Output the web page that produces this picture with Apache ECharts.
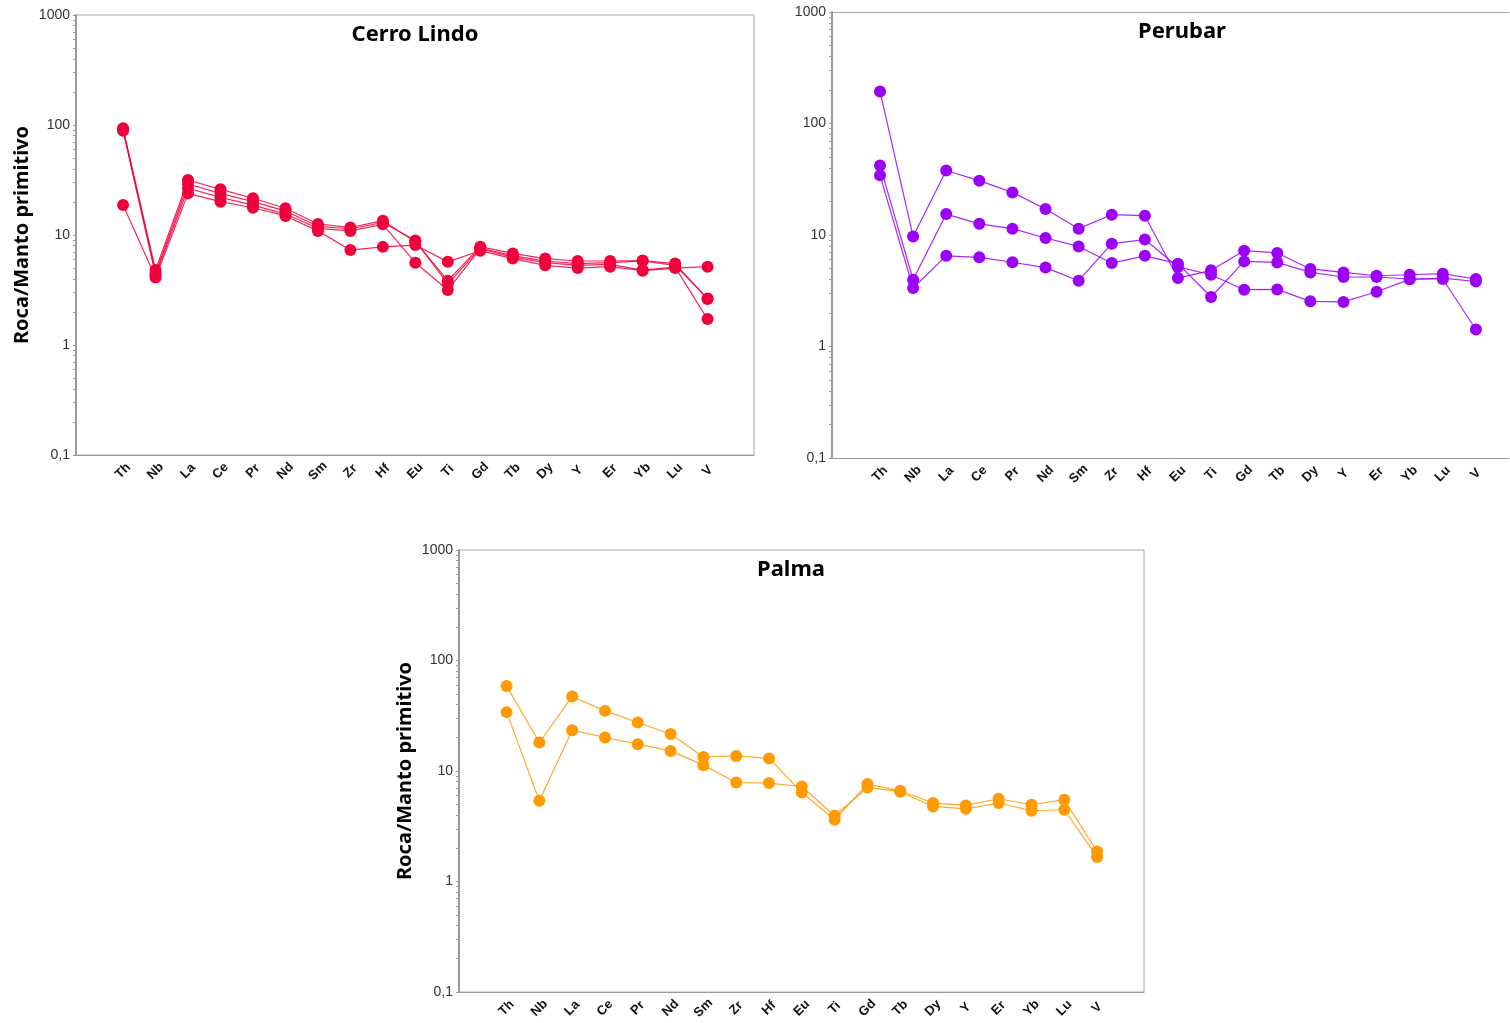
<!DOCTYPE html>
<html>
<head>
<meta charset="utf-8">
<script src="https://cdn.jsdelivr.net/npm/echarts@6/dist/echarts.min.js"></script>
<style>
  html, body { margin: 0; padding: 0; background: #ffffff; }
  #chart { width: 1510px; height: 1023px; }
</style>
</head>
<body>
<div id="chart"></div>
<script>
// Elementos normalizados al manto primitivo (diagrama multielemento)
const elements = ['Th','Nb','La','Ce','Pr','Nd','Sm','Zr','Hf','Eu','Ti','Gd','Tb','Dy','Y','Er','Yb','Lu','V'];

// Cerro Lindo
const cerroLindoA = [93.3, 4.8, 31.6, 26.0, 21.6, 17.5, 12.6, 11.7, 13.5, 8.7, 3.84, 7.83, 6.8, 6.1, 5.8, 5.8, 5.85, 5.5, 2.62];
const cerroLindoB = [88.8, 4.3, 26.6, 22.0, 18.7, 15.5, 11.5, 10.9, 12.5, 5.6, 3.16, 7.5, 6.3, 5.6, 5.3, 5.4, 4.8, 5.1, 1.72];
const cerroLindoC = [18.7, 4.1, 23.9, 20.1, 17.7, 14.9, 10.9, 7.3, 7.8, 8.1, 5.7, 7.2, 6.1, 5.3, 5.0, 5.15, 4.74, 5.0, 5.15];
const cerroLindoD = [91.0, 4.5, 29.1, 23.9, 20.1, 16.5, 12.0, 11.4, 13.0, 8.9, 3.6, 7.6, 6.5, 5.8, 5.5, 5.6, 5.8, 5.3, 2.65];

// Perubar
const perubarA = [194, 9.7, 37.9, 30.7, 24.1, 17.1, 11.4, 15.2, 14.9, 4.11, 4.82, 7.23, 6.9, 4.96, 4.62, 4.31, 4.4, 4.5, 4.03];
const perubarB = [42.1, 3.97, 15.4, 12.6, 11.4, 9.4, 7.9, 5.6, 6.5, 5.53, 2.78, 5.8, 5.68, 4.62, 4.2, 4.2, 4.03, 4.03, 1.42];
const perubarC = [34.3, 3.35, 6.5, 6.3, 5.7, 5.1, 3.89, 8.36, 9.1, 5.17, 4.4, 3.23, 3.25, 2.54, 2.51, 3.1, 4.0, 4.1, 3.83];

// Palma
const palmaA = [58.9, 18.1, 47.2, 35.0, 27.5, 21.6, 13.4, 13.7, 13.0, 6.4, 3.62, 7.61, 6.62, 5.13, 4.88, 5.61, 4.95, 5.5, 1.87];
const palmaB = [34.1, 5.38, 23.4, 20.1, 17.5, 15.2, 11.3, 7.87, 7.77, 7.24, 3.94, 7.1, 6.5, 4.78, 4.55, 5.13, 4.37, 4.46, 1.67];

// Marcas del eje logarítmico
const yLabelValues = [0.1, 1, 10, 100, 1000];
const yMinorValues = [0.1,0.2,0.3,0.4,0.5,0.6,0.7,0.8,0.9,1,2,3,4,5,6,7,8,9,10,20,30,40,50,60,70,80,90,100,200,300,400,500,600,700,800,900,1000];

// Perubar runs past the right edge of the page, so its frame has no right side
const panels = [
  { title: 'Cerro Lindo', color: '#F2003C', series: [cerroLindoA, cerroLindoB, cerroLindoC, cerroLindoD],
    grid: { left: 76, top: 15, width: 678, height: 440 }, xMax: 19.43, titleX: 410, yName: true, openRight: false },
  { title: 'Perubar', color: '#9B00F7', series: [perubarA, perubarB, perubarC],
    grid: { left: 832, top: 12, width: 677, height: 446 }, xMax: 19.0, titleX: 1177, yName: false, openRight: true },
  { title: 'Palma', color: '#FF9A00', series: [palmaA, palmaB],
    grid: { left: 459, top: 550, width: 685, height: 442 }, xMax: 19.43, titleX: 786, yName: true, openRight: false }
];

const grids = [], xAxes = [], yAxes = [], series = [], titles = [];
const axisGrey = '#9a9a9a';
const frameGrey = '#a8a8a8';

panels.forEach((p, k) => {
  grids.push(Object.assign({
    show: true, borderColor: p.openRight ? 'transparent' : frameGrey, borderWidth: 1, backgroundColor: '#fff'
  }, p.grid));
  xAxes.push({
    gridIndex: k, type: 'value', min: -1.45, max: p.xMax, position: 'bottom',
    splitLine: { show: false },
    axisLine: { show: true, onZero: false, lineStyle: { color: axisGrey, width: 1 } },
    axisTick: { show: false },
    axisLabel: {
      customValues: elements.map((_, i) => i),
      formatter: v => elements[Math.round(v)],
      rotate: 45, margin: 16, align: 'center', verticalAlign: 'middle', color: '#111',
      fontFamily: 'Liberation Sans', fontWeight: 'bold', fontSize: 13
    }
  });
  yAxes.push({
    gridIndex: k, type: 'log', logBase: 10, min: 0.1, max: 1000,
    name: p.yName ? 'Roca/Manto primitivo' : '',
    nameLocation: 'middle', nameGap: 44, nameRotate: 90,
    nameTextStyle: { fontFamily: 'Noto Sans', fontWeight: 'bold', fontSize: 20, color: '#000' },
    splitLine: { show: false },
    axisLine: { show: true, onZero: false, lineStyle: { color: axisGrey, width: 2 } },
    axisTick: { show: true, customValues: yMinorValues, length: 3, lineStyle: { color: axisGrey, width: 1 } },
    axisLabel: {
      customValues: yLabelValues,
      formatter: v => String(v).replace('.', ','),
      margin: 6, color: '#333', fontFamily: 'Liberation Sans', fontSize: 14
    }
  });
  titles.push({
    text: p.title,
    left: p.titleX, top: p.grid.top + 4,
    textAlign: 'center',
    textStyle: { fontFamily: 'Noto Sans', fontWeight: 'bold', fontSize: 22, color: '#000' }
  });
  p.series.forEach(vals => {
    series.push({
      type: 'line', xAxisIndex: k, yAxisIndex: k,
      data: vals.map((v, i) => [i, v]),
      symbol: 'circle', symbolSize: 12,
      itemStyle: { color: p.color },
      lineStyle: { color: p.color, width: 1.2, opacity: 0.85 },
      silent: true
    });
  });
});

// top edge of the open Perubar frame
xAxes.push({
  gridIndex: 1, type: 'value', min: -1.45, max: 19.0, position: 'top',
  splitLine: { show: false }, axisTick: { show: false }, axisLabel: { show: false },
  axisLine: { show: true, onZero: false, lineStyle: { color: frameGrey, width: 1 } }
});

const chart = echarts.init(document.getElementById('chart'), null, { renderer: 'canvas' });
chart.setOption({
  animation: false,
  backgroundColor: '#ffffff',
  title: titles,
  grid: grids,
  xAxis: xAxes,
  yAxis: yAxes,
  series: series
});
</script>
</body>
</html>
